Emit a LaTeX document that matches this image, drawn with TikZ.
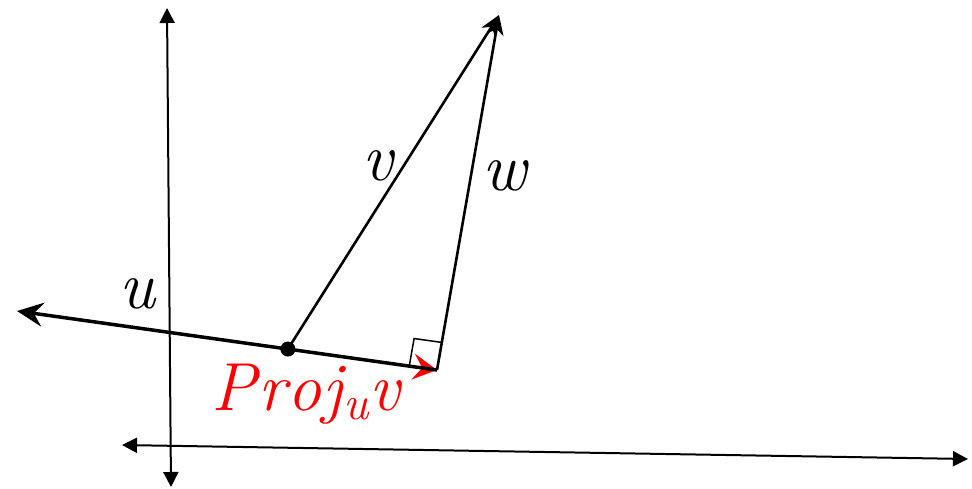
\documentclass[tikz,border=0pt]{standalone}
\usetikzlibrary{arrows.meta,calc}
\begin{document}
\begin{tikzpicture}[x=1pt,y=-1pt,
  axisb/.style={line width=2pt,{Triangle[length=15pt,width=15pt]}-{Triangle[length=15pt,width=15pt]}},
  vec/.style={line width=2.6pt,-{Stealth[length=20pt,width=16pt,inset=6pt]}},
  lbl/.style={font=\fontsize{68}{68}\selectfont\itshape,inner sep=0pt}]
\useasboundingbox (0,0) rectangle (972,488);
% axes
\coordinate (VT) at (167,8);
\coordinate (VB) at (171,487);
\coordinate (HL) at (122,445);
\coordinate (HR) at (968,459);
\draw[axisb] (VB) -- (VT);
\draw[axisb] (HL) -- (HR);
% u line
\coordinate (UL) at (17,311);
\coordinate (F) at (437,370);
\coordinate (T) at (499,15);
\coordinate (D) at ($(UL)!0.645!(F)$);
% projection (red)
\draw[red,line width=2pt,-{Stealth[length=24pt,width=26pt,inset=9pt]}] (D) -- (F);
\draw[line width=3.5pt,-{Stealth[length=26pt,width=24pt,inset=9pt]}] (F) -- (UL);
% right angle box
\coordinate (B1) at ($(F)!28pt!(UL)$);
\coordinate (B2) at ($(F)!28pt!(T)$);
\draw[line width=1.5pt] (B1) -- ($(B1)+(B2)-(F)$) -- (B2);
% v and w
\draw[vec] (D) -- (T);
\draw[vec] (F) -- (T);
\fill (D) circle (7.5pt);
% labels
\node[lbl] (lv) at (378,166) {v};
\node[lbl] (lw) at (505,176) {w};
\node[lbl] (lu) at (137,294) {u};
\node[lbl,red,anchor=base west] (lp) at (211,410) {P\kern2pt r\kern1pt o\kern1pt j\kern1pt\raisebox{-9pt}{\fontsize{48}{48}\selectfont u}\kern1pt v};
\end{tikzpicture}
\end{document}
